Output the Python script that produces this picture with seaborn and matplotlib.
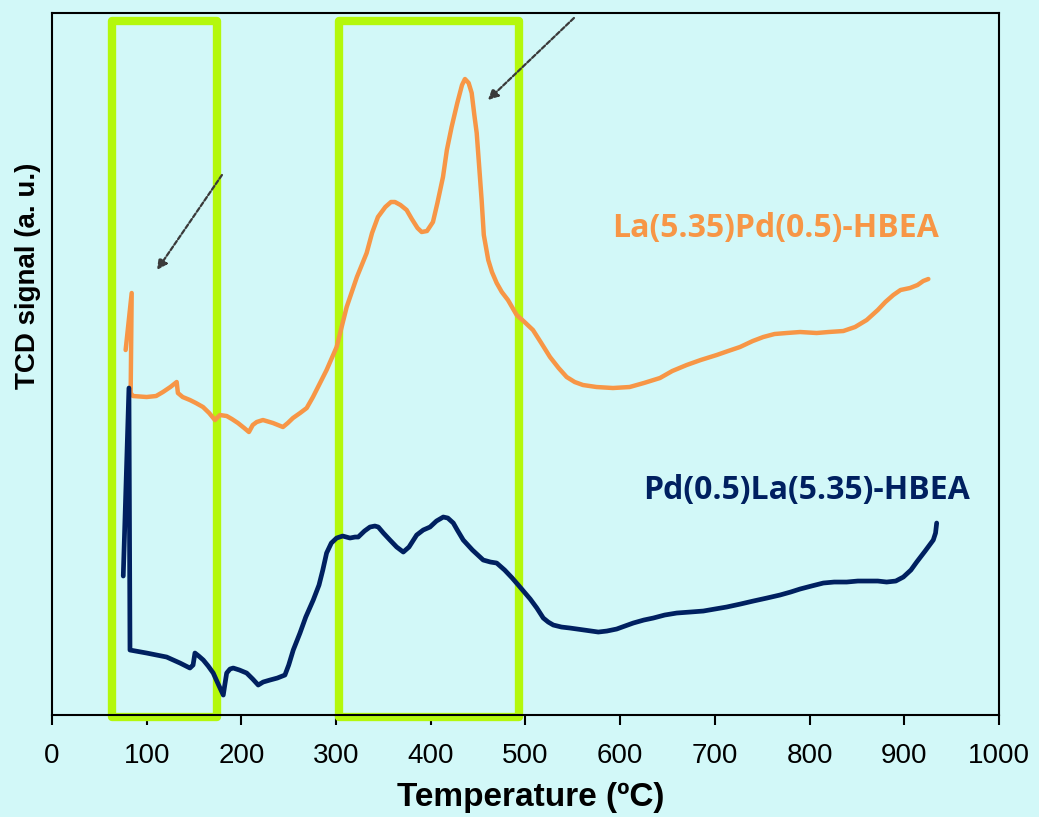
import pandas as pd
import seaborn as sns
import matplotlib.pyplot as plt
from matplotlib.patches import Rectangle

# TPR curves (temperature in ºC, signal in arbitrary units)
temp_la_pd = [77.8, 84.2, 83.1, 85.5, 100, 110, 117.2, 125, 131.7, 133, 138, 145.7, 152,
              159.5, 166, 172.1, 177.4, 184.5, 190, 196.4, 203, 208, 212, 216.2, 222.8,
              233.4, 243.9, 249, 254.5, 262, 269, 275.6, 282, 290, 300.6, 311.2, 322, 332.3,
              338, 344.2, 352, 358, 362.2, 368, 374.5, 380, 386, 390.4, 396, 402.3, 407,
              412.9, 417, 422, 428, 433, 436.1, 440, 443.2, 446, 448.5, 451, 453.7, 456,
              460.7, 464.6, 469.6, 475, 481.5, 490.7, 499, 507.9, 516, 525.9, 535, 543.5,
              552, 560.7, 575, 592.4, 610, 625, 642, 655, 670.2, 685, 701.9, 714, 726.5,
              740, 751.1, 763, 775.8, 790, 807.5, 820, 835.6, 848, 860.3, 872, 880, 888.4,
              896, 906, 914, 920, 925.4]
signal_la_pd = [365, 422, 322, 319, 318, 319, 323, 328, 333, 322, 318, 315, 312,
                308, 302, 295, 300, 299, 296, 292, 287, 283, 290, 293, 295,
                292, 288, 292, 297, 302, 307, 318, 330, 345, 368, 408, 438, 462,
                482, 498, 508, 513, 513, 510, 505, 496, 487, 483, 484, 493, 512,
                538, 565, 588, 612, 630, 636, 632, 622, 600, 582, 550, 515, 480,
                455, 443, 432, 423, 415, 400, 393, 385, 373, 358, 347, 338,
                333, 330, 328, 327, 328, 332, 337, 344, 350, 355, 360, 364, 368,
                374, 378, 381, 382, 383, 382, 383, 384, 388, 395, 405, 413, 420,
                425, 427, 430, 434, 436]

temp_pd_la = [75.3, 81.3, 82.4, 100, 121.1, 135.2, 145.7, 149, 151, 155, 159.8, 165,
              170.3, 176, 180.9, 182.5, 184.5, 188, 191.4, 198, 205.6, 212, 217.8, 223,
              230.2, 238, 246, 250, 254.8, 261.9, 268, 275.9, 282, 286, 290, 295, 300.6,
              307, 314.7, 320, 323.4, 330, 335.8, 341, 344.6, 350, 356.9, 364, 371, 377,
              385.1, 392, 399.2, 406, 413.2, 418, 423.8, 428, 434.3, 444, 455.4, 463,
              469.6, 478, 486, 494.2, 505, 512, 518.8, 524, 529.4, 538, 547, 562, 576.9,
              586, 596.3, 605, 613.8, 625, 635, 647, 659.7, 674, 687.8, 700, 712.4, 727,
              740.6, 755, 768.7, 780, 789.9, 802, 814.5, 826, 839.2, 851, 863.8, 872,
              881.4, 891, 899, 907, 913.1, 922, 930.6, 933, 934.2]
signal_pd_la = [139, 327, 65, 62, 58, 52, 47, 50, 62, 59, 55, 49,
                42, 30, 20, 30, 42, 46, 47, 45, 42, 36, 30, 33,
                35, 37, 40, 50, 65, 82, 98, 115, 130, 145, 162, 172, 177,
                179, 177, 178, 178, 184, 188, 189, 188, 182, 175, 168, 163, 168,
                180, 185, 188, 194, 198, 197, 192, 185, 175, 165, 155, 153,
                152, 145, 137, 128, 116, 107, 97, 93, 90, 88, 87, 85, 83,
                84, 86, 89, 92, 95, 97, 100, 102, 103, 104, 106, 108, 111,
                114, 117, 120, 123, 126, 129, 132, 133, 133, 134, 134, 134,
                133, 134, 138, 145, 153, 164, 175, 182, 192]

# highlighted temperature windows
windows = [(63, 174), (303, 493)]

df1 = pd.DataFrame({"T": temp_la_pd, "s": signal_la_pd})
df2 = pd.DataFrame({"T": temp_pd_la, "s": signal_pd_la})

sns.set_style("ticks")
plt.rcParams["text.color"] = "black"
plt.rcParams["axes.labelcolor"] = "black"
bg = "#d2f8f8"
orange = "#f79646"
navy = "#002060"
green = "#b4f80c"

fig = plt.figure(figsize=(10.39, 8.17), dpi=100, facecolor=bg)
ax = fig.add_axes([0.05, 0.1248, 0.9115, 0.8593])
ax.set_facecolor(bg)

sns.lineplot(data=df1, x="T", y="s", sort=False, estimator=None, color=orange, lw=3.2,
             solid_joinstyle="round", solid_capstyle="round", ax=ax)
sns.lineplot(data=df2, x="T", y="s", sort=False, estimator=None, color=navy, lw=3.4,
             solid_joinstyle="round", solid_capstyle="round", ax=ax)

# green boxes
for lo, hi in windows:
    ax.add_patch(Rectangle((lo, -2), hi - lo, 696, fill=False, edgecolor=green, lw=6,
                           joinstyle="round", clip_on=False, zorder=1))

# arrows
for head, tail in [((110.9, 445), (179.5, 540)), ((460.4, 615), (551.2, 697))]:
    ax.annotate("", xy=head, xytext=tail,
                arrowprops=dict(arrowstyle="-|>,head_length=0.6,head_width=0.3",
                                color="#3a3a3a", lw=1.6, linestyle=(0, (2, 1)),
                                shrinkA=0, shrinkB=0))

# series labels
ax.text(764.5, 487, "La(5.35)Pd(0.5)-HBEA", color=orange, fontsize=23, fontweight="bold",
        family="Open Sans", ha="center", va="center")
ax.text(797, 225, "Pd(0.5)La(5.35)-HBEA", color=navy, fontsize=23, fontweight="bold",
        family="Open Sans", ha="center", va="center")

ax.set_xlim(0, 1000)
ax.set_ylim(0, 702)
ax.set_xticks(range(0, 1001, 100))
ax.set_yticks([])
ax.tick_params(axis="x", direction="out", length=7, width=1.5, labelsize=20, pad=13,
               labelcolor="black", color="black")
for lab in ax.get_xticklabels():
    lab.set_family("Liberation Sans")
for sp in ax.spines.values():
    sp.set_color("black")
    sp.set_linewidth(1.5)

ax.set_xlabel("Temperature (ºC)", fontsize=24, fontweight="bold", family="Liberation Sans",
              color="black")
ax.set_ylabel("TCD signal (a. u.)", fontsize=20, fontweight="bold", family="Liberation Sans",
              color="black")
ax.xaxis.set_label_coords(0.506, -0.095)
ax.yaxis.set_label_coords(-0.012, 0.625)

plt.savefig("out.png", dpi=100, facecolor=bg)
